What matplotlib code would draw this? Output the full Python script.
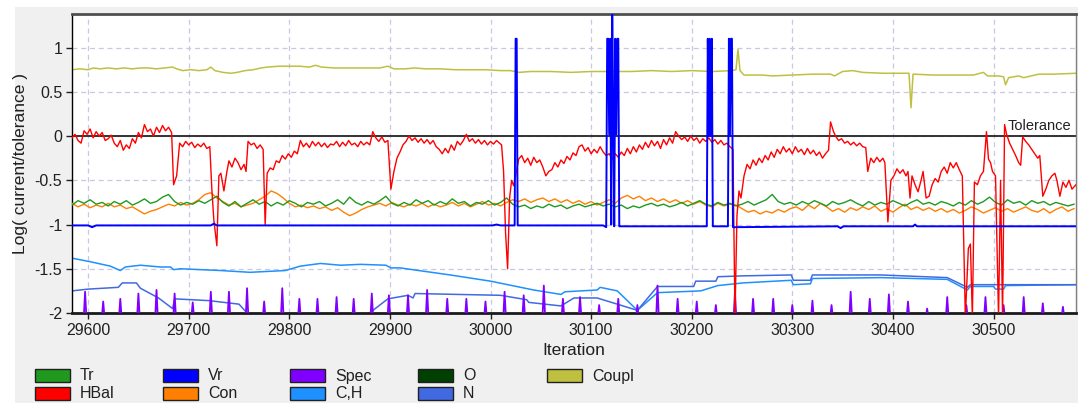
import numpy as np
import matplotlib
matplotlib.use("Agg")
import matplotlib.pyplot as plt
from matplotlib.patches import Rectangle

plt.rcParams['font.family'] = ['Liberation Sans', 'DejaVu Sans']

# ---- data (iteration, log(current/tolerance)) ----
tr_start, tr_step = 29584, 6
tr = [-0.78, -0.73, -0.76, -0.72, -0.77, -0.75, -0.79, -0.74, -0.77, -0.73,
      -0.78, -0.75, -0.71, -0.76, -0.74, -0.69, -0.66, -0.74, -0.78, -0.75,
      -0.77, -0.73, -0.76, -0.72, -0.68, -0.75, -0.79, -0.74, -0.8, -0.76,
      -0.72, -0.77, -0.74, -0.79, -0.75, -0.78, -0.73, -0.76, -0.8, -0.75,
      -0.77, -0.74, -0.79, -0.76, -0.72, -0.77, -0.69, -0.75, -0.78, -0.74,
      -0.77, -0.73, -0.68, -0.76, -0.79, -0.75, -0.78, -0.72, -0.76, -0.73,
      -0.78, -0.74, -0.77, -0.71, -0.76, -0.74, -0.79, -0.75, -0.77, -0.73,
      -0.78, -0.75, -0.7, -0.77, -0.8, -0.78, -0.82, -0.79, -0.81, -0.77,
      -0.8, -0.78, -0.82, -0.79, -0.77, -0.8, -0.78, -0.76, -0.79, -0.77,
      -0.8, -0.78, -0.82, -0.79, -0.81, -0.78, -0.76, -0.79, -0.77, -0.8,
      -0.78, -0.75, -0.79, -0.76, -0.73, -0.77, -0.79, -0.75, -0.78, -0.76,
      -0.79, -0.77, -0.74, -0.78, -0.75, -0.72, -0.66, -0.74, -0.77, -0.75,
      -0.78, -0.74, -0.77, -0.73, -0.76, -0.79, -0.74, -0.77, -0.75, -0.72,
      -0.76, -0.79, -0.74, -0.78, -0.75, -0.77, -0.73, -0.76, -0.79, -0.75,
      -0.72, -0.77, -0.75, -0.78, -0.74, -0.76, -0.79, -0.75, -0.78, -0.73,
      -0.77, -0.74, -0.69, -0.75, -0.78, -0.72, -0.76, -0.74, -0.78, -0.73,
      -0.76, -0.74, -0.78, -0.75, -0.77, -0.79, -0.77]

con = [-0.76, -0.8, -0.77, -0.81, -0.78, -0.8, -0.76, -0.8, -0.78, -0.82,
       -0.8, -0.84, -0.88, -0.85, -0.83, -0.8, -0.77, -0.79, -0.75, -0.78,
       -0.76, -0.72, -0.66, -0.64, -0.7, -0.74, -0.78, -0.76, -0.8, -0.78,
       -0.76, -0.72, -0.68, -0.62, -0.65, -0.7, -0.76, -0.8, -0.78, -0.81,
       -0.79, -0.82, -0.8, -0.84, -0.81, -0.86, -0.9, -0.87, -0.83, -0.8,
       -0.78, -0.76, -0.79, -0.75, -0.78, -0.8, -0.77, -0.79, -0.76, -0.8,
       -0.77, -0.8, -0.78, -0.75, -0.79, -0.76, -0.8, -0.77, -0.74, -0.78,
       -0.76, -0.79, -0.75, -0.72, -0.74, -0.71, -0.75, -0.72, -0.7, -0.74,
       -0.71, -0.75, -0.72, -0.76, -0.73, -0.77, -0.74, -0.78, -0.75, -0.72,
       -0.76, -0.7, -0.67, -0.71, -0.68, -0.73, -0.7, -0.74, -0.71, -0.75,
       -0.72, -0.76, -0.73, -0.77, -0.74, -0.78, -0.8, -0.76, -0.79, -0.77,
       -0.78, -0.82, -0.86, -0.84, -0.88, -0.85, -0.87, -0.83, -0.86, -0.82,
       -0.8, -0.84, -0.78, -0.82, -0.76, -0.8, -0.85, -0.82, -0.86, -0.81,
       -0.84, -0.8, -0.83, -0.79, -0.85, -0.82, -0.86, -0.81, -0.77, -0.83,
       -0.8, -0.84, -0.81, -0.85, -0.82, -0.86, -0.83, -0.87, -0.84, -0.8,
       -0.83, -0.87, -0.84, -0.81, -0.85, -0.82, -0.86, -0.83, -0.8, -0.84,
       -0.86, -0.82, -0.87, -0.83, -0.8, -0.85, -0.82]

hbal_x = [29584, 29587, 29590, 29593, 29596, 29599, 29602, 29605, 29608, 29611,
          29614, 29617, 29620, 29623, 29626, 29629, 29632, 29635, 29638, 29641,
          29644, 29647, 29650, 29653, 29656, 29659, 29662, 29665, 29668, 29671,
          29674, 29677, 29680, 29683, 29685, 29688, 29691, 29694, 29697, 29700,
          29703, 29706, 29709, 29712, 29715, 29718, 29721, 29723, 29725, 29728,
          29730, 29732, 29735, 29738, 29740, 29743, 29746, 29749, 29752, 29755,
          29757, 29759, 29762, 29765, 29768, 29771, 29774, 29776, 29778, 29781,
          29784, 29787, 29790, 29793, 29796, 29799, 29802, 29805, 29808, 29811,
          29814, 29817, 29820, 29823, 29826, 29829, 29832, 29835, 29838, 29841,
          29844, 29847, 29850, 29853, 29856, 29859, 29862, 29865, 29868, 29871,
          29874, 29877, 29880, 29883, 29886, 29889, 29892, 29895, 29898, 29901,
          29904, 29907, 29910, 29913, 29916, 29919, 29922, 29925, 29928, 29931,
          29934, 29937, 29940, 29943, 29946, 29949, 29952, 29955, 29958, 29961,
          29964, 29967, 29970, 29973, 29976, 29979, 29982, 29985, 29988, 29991,
          29994, 29997, 30000, 30003, 30006, 30009, 30011, 30013, 30015, 30017,
          30019, 30021, 30023, 30025, 30028, 30031, 30034, 30037, 30040, 30043,
          30046, 30049, 30052, 30055, 30058, 30061, 30064, 30067, 30070, 30073,
          30076, 30079, 30082, 30085, 30088, 30091, 30094, 30097, 30100, 30103,
          30106, 30109, 30112, 30115, 30118, 30121, 30124, 30127, 30130, 30133,
          30136, 30139, 30142, 30145, 30148, 30151, 30154, 30157, 30160, 30163,
          30166, 30169, 30172, 30175, 30178, 30181, 30184, 30187, 30190, 30193,
          30196, 30199, 30202, 30205, 30208, 30211, 30214, 30217, 30220, 30223,
          30226, 30229, 30232, 30235, 30238, 30241, 30243, 30245, 30247, 30249,
          30252, 30255, 30258, 30261, 30264, 30267, 30270, 30273, 30276, 30279,
          30282, 30285, 30288, 30291, 30294, 30297, 30300, 30303, 30306, 30309,
          30312, 30315, 30318, 30321, 30324, 30327, 30330, 30333, 30336, 30338,
          30341, 30343, 30346, 30349, 30352, 30355, 30358, 30361, 30364, 30367,
          30370, 30373, 30375, 30378, 30381, 30384, 30387, 30390, 30392, 30395,
          30398, 30401, 30404, 30407, 30410, 30413, 30415, 30417, 30419, 30422,
          30425, 30428, 30430, 30433, 30436, 30439, 30442, 30445, 30448, 30451,
          30454, 30457, 30460, 30463, 30466, 30469, 30472, 30475, 30477, 30479,
          30481, 30484, 30487, 30490, 30493, 30495, 30497, 30499, 30502, 30505,
          30507, 30509, 30511, 30513, 30516, 30519, 30522, 30525, 30527, 30529,
          30532, 30535, 30538, 30541, 30544, 30546, 30549, 30552, 30555, 30558,
          30561, 30563, 30566, 30569, 30572, 30575, 30578, 30582]
hbal_y = [-0.02, 0.02, -0.05, -0.08, 0.06, 0.02, 0.08, -0.02, 0.05, 0.0,
          0.04, -0.05, -0.03, 0.01, -0.08, -0.12, -0.05, -0.16, -0.1, -0.14,
          -0.03, -0.08, 0.04, -0.02, 0.13, 0.05, 0.08, 0.0, 0.1, 0.04,
          0.12, 0.06, 0.1, 0.04, -0.55, -0.45, -0.08, -0.12, -0.06, -0.1,
          -0.07, -0.13, -0.09, -0.12, -0.08, -0.14, -0.12, -0.6, -0.95, -1.24,
          -0.45, -0.42, -0.62, -0.4, -0.28, -0.35, -0.25, -0.3, -0.38, -0.32,
          -0.4, -0.06, -0.1, -0.08, -0.14, -0.1, -0.15, -1.0, -0.42, -0.36,
          -0.38, -0.28, -0.3, -0.22, -0.26, -0.2, -0.24, -0.17, -0.2, -0.05,
          -0.12, -0.08, -0.13, -0.06, -0.11, -0.07, -0.12, -0.08, -0.13, -0.09,
          -0.1, -0.06, -0.12, -0.07, -0.11, -0.05, -0.1, -0.08, -0.12, -0.06,
          -0.1, -0.07, -0.1, 0.05, -0.02, -0.06, -0.01, -0.07, -0.05, -0.6,
          -0.4, -0.25, -0.18, -0.1, -0.06, 0.0, -0.05, -0.02, -0.07, -0.03,
          -0.08, -0.04, -0.09, -0.05, -0.12, -0.15, -0.2, -0.14, -0.19, -0.1,
          -0.16, -0.06, -0.1, -0.05, 0.02, -0.06, -0.03, -0.08, -0.04, -0.09,
          -0.05, -0.1, -0.06, -0.09, -0.05, -0.08, -0.1, -0.4, -1.1, -1.5,
          -0.7, -0.5, -0.56, -0.45, -0.26, -0.22, -0.3, -0.25, -0.33, -0.24,
          -0.3, -0.27, -0.35, -0.45, -0.4, -0.38, -0.3, -0.35, -0.27, -0.31,
          -0.23, -0.27, -0.19, -0.22, -0.12, -0.1, -0.17, -0.13, -0.2, -0.15,
          -0.19, -0.12, -0.18, -0.22, -0.2, -0.26, -0.2, -0.24, -0.18, -0.22,
          -0.14, -0.2, -0.12, -0.18, -0.1, -0.15, -0.07, -0.13, -0.05, -0.11,
          -0.06, -0.14, -0.04, -0.1, -0.02, -0.08, 0.05, 0.0, -0.04, -0.01,
          -0.06, 0.0, -0.05, -0.02, -0.08, -0.03, -0.06, -0.02, -0.07, -0.04,
          -0.09, -0.05, -0.1, -0.08, -0.12, -0.15, -2.05, -0.9, -0.62, -0.7,
          -0.45, -0.32, -0.37, -0.27, -0.33, -0.25, -0.3, -0.22, -0.27, -0.18,
          -0.24, -0.15, -0.2, -0.12, -0.18, -0.14, -0.2, -0.12, -0.18, -0.15,
          -0.21, -0.14, -0.2, -0.16, -0.22, -0.18, -0.25, -0.2, -0.16, 0.16,
          0.05, 0.0, -0.05, -0.03, -0.08, -0.06, -0.1, -0.07, -0.11, -0.08,
          -0.12, -0.13, -0.4, -0.25, -0.3, -0.24, -0.29, -0.25, -0.3, -0.97,
          -0.5, -0.45, -0.37, -0.42, -0.38, -0.45, -0.4, -0.7, -0.45, -0.55,
          -0.63, -0.5, -0.4, -0.7, -0.68, -0.55, -0.48, -0.52, -0.4, -0.35,
          -0.42, -0.3, -0.36, -0.3, -0.38, -0.45, -2.05, -1.27, -1.22, -2.05,
          -0.52, -0.55, -0.45, -0.4, 0.05, -0.26, -0.3, -0.4, -0.45, -2.05,
          -0.5, -2.05, 0.13, 0.02, -0.08, -0.15, -0.22, -0.3, -0.33, -0.01,
          -0.06, -0.1, -0.15, -0.2, -0.25, -0.22, -0.68, -0.6, -0.5, -0.45,
          -0.42, -0.5, -0.68, -0.52, -0.58, -0.5, -0.6, -0.55]

vr_x = [29584, 29600, 29604, 29608, 29722, 29725, 29728, 30002, 30006, 30010,
        30024, 30025, 30026, 30027,
        30112, 30115, 30116, 30117, 30118, 30119, 30120, 30121, 30122, 30123,
        30124, 30125, 30126, 30127, 30128, 30129,
        30215, 30216, 30217, 30218, 30219, 30220, 30221,
        30236, 30237, 30238, 30239, 30240, 30241,
        30345, 30348, 30351, 30420, 30422, 30424, 30582]
vr_y = [-1.01, -1.01, -1.03, -1.01, -1.01, -0.99, -1.01, -1.01, -1.0, -1.01,
        -1.01, 1.1, 1.1, -1.01,
        -1.01, -1.03, 1.1, 1.1, 0.02, 1.1, -1.0, 1.38, 0.3, -1.02,
        1.1, 0.02, 1.1, 1.1, -1.02, -1.02,
        -1.02, 1.1, 0.0, 1.1, 0.0, 1.1, -1.02,
        -1.02, 1.1, 0.0, 1.1, 1.1, -1.03,
        -1.02, -1.04, -1.02, -1.02, -1.0, -1.02, -1.02]

ch_x = [29584, 29602, 29622, 29632, 29637, 29652, 29672, 29682, 29685, 29692,
        29732, 29761, 29796, 29811, 29831, 29851, 29871, 29896, 29901, 29910,
        29960, 30000, 30043, 30070, 30074, 30106, 30109, 30126, 30146, 30166,
        30209, 30226, 30251, 30299, 30301, 30318, 30320, 30388, 30454, 30474,
        30477, 30500, 30502, 30510, 30512, 30582]
ch_y = [-1.38, -1.42, -1.47, -1.52, -1.48, -1.46, -1.48, -1.48, -1.51, -1.5,
        -1.52, -1.54, -1.52, -1.47, -1.44, -1.46, -1.45, -1.46, -1.49, -1.49,
        -1.57, -1.64, -1.74, -1.79, -1.76, -1.74, -1.71, -1.75, -1.97, -1.77,
        -1.75, -1.69, -1.66, -1.63, -1.68, -1.67, -1.61, -1.6, -1.62, -1.74,
        -1.7, -1.7, -1.73, -1.73, -1.69, -1.68]

n_x = [29584, 29600, 29630, 29634, 29648, 29652, 29670, 29684, 29686, 29720,
       29750, 29762, 29874, 29898, 29918, 29923, 29925, 30010, 30036, 30038,
       30070, 30083, 30106, 30146, 30166, 30202, 30204, 30224, 30226, 30251,
       30299, 30301, 30318, 30320, 30388, 30454, 30474, 30477, 30582]
n_y = [-1.75, -1.73, -1.71, -1.66, -1.66, -1.72, -1.83, -1.95, -1.84, -1.86,
       -1.9, -2.05, -2.05, -1.84, -1.8, -1.83, -1.78, -1.8, -1.85, -1.88,
       -1.92, -1.83, -1.83, -1.97, -1.7, -1.7, -1.64, -1.64, -1.59, -1.58,
       -1.57, -1.63, -1.63, -1.57, -1.57, -1.6, -1.71, -1.68, -1.68]

spec_x = [29597, 29615, 29632, 29650, 29668, 29686, 29704, 29722, 29740, 29758,
          29775, 29793, 29810, 29828, 29847, 29864, 29882, 29899, 29918, 29937,
          29957, 29976, 29995, 30014, 30033, 30053, 30072, 30089, 30108, 30127,
          30146, 30166, 30186, 30205, 30224, 30243, 30261, 30281, 30300, 30320,
          30339, 30358, 30377, 30396, 30415, 30434, 30454, 30473, 30492, 30510,
          30530, 30549, 30569]
spec_y = [-1.76, -1.87, -1.84, -1.78, -1.74, -1.78, -1.88, -1.76, -1.76, -1.72,
          -1.87, -1.72, -1.84, -1.84, -1.82, -1.84, -1.78, -1.8, -1.8, -1.74,
          -1.84, -1.84, -1.87, -1.76, -1.8, -1.69, -1.84, -1.82, -1.91, -1.84,
          -1.91, -1.69, -1.84, -1.87, -1.91, -1.76, -1.84, -1.84, -1.91, -1.86,
          -1.91, -1.76, -1.84, -1.79, -1.87, -1.95, -1.82, -1.91, -1.82, -1.91,
          -1.82, -1.89, -1.93]

coupl_x = [29584, 29592, 29600, 29605, 29612, 29620, 29628, 29636, 29644, 29652,
           29660, 29668, 29676, 29684, 29688, 29694, 29702, 29710, 29718, 29722,
           29726, 29734, 29742, 29748, 29756, 29764, 29772, 29778, 29790, 29800,
           29810, 29820, 29826, 29832, 29845, 29860, 29875, 29890, 29898, 29904,
           29915, 29925, 29935, 29950, 29965, 29980, 29995, 30010, 30020, 30028,
           30040, 30060, 30080, 30100, 30120, 30140, 30160, 30180, 30200, 30220,
           30240, 30244, 30246, 30248, 30252, 30270, 30280, 30300, 30320, 30338,
           30342, 30350, 30360, 30370, 30390, 30410, 30416, 30418, 30420, 30440,
           30460, 30480, 30490, 30494, 30505, 30510, 30512, 30515, 30525, 30530,
           30545, 30560, 30582]
coupl_y = [0.75, 0.76, 0.75, 0.77, 0.76, 0.77, 0.76, 0.77, 0.76, 0.77,
           0.77, 0.76, 0.77, 0.78, 0.76, 0.74, 0.75, 0.74, 0.75, 0.78,
           0.74, 0.72, 0.71, 0.72, 0.74, 0.75, 0.77, 0.78, 0.79, 0.79,
           0.79, 0.78, 0.8, 0.78, 0.77, 0.77, 0.77, 0.77, 0.79, 0.76,
           0.76, 0.77, 0.76, 0.76, 0.75, 0.75, 0.75, 0.74, 0.74, 0.72,
           0.73, 0.73, 0.72, 0.73, 0.73, 0.73, 0.74, 0.73, 0.74, 0.73,
           0.74, 0.75, 0.98, 0.74, 0.69, 0.69, 0.68, 0.69, 0.7, 0.7,
           0.68, 0.73, 0.74, 0.72, 0.71, 0.71, 0.71, 0.32, 0.7, 0.69,
           0.69, 0.69, 0.72, 0.68, 0.68, 0.67, 0.58, 0.66, 0.68, 0.66,
           0.7, 0.7, 0.71]

names = ['Tr', 'HBal', 'Vr', 'Con', 'Spec', 'C,H', 'O', 'N', 'Coupl']
colors = {'Tr': '#1f9a1f', 'HBal': '#ff0000', 'Vr': '#0000ff', 'Con': '#ff8000',
          'Spec': '#8000ff', 'C,H': '#1e90ff', 'O': '#004000', 'N': '#4169e1',
          'Coupl': '#c0c040'}

W, H = 1086, 403
fig = plt.figure(figsize=(W / 100, H / 100), dpi=100, facecolor='white')
fig.patches.append(Rectangle((15 / W, 0), (1078 - 15) / W, 1 - 7 / H,
                             transform=fig.transFigure, facecolor='#f0f0f0',
                             edgecolor='none', zorder=-10))
ax = fig.add_axes([72 / W, 1 - 313 / H, (1076 - 72) / W, (313 - 14) / H])
ax.set_facecolor('white')

ax.axhline(0, color='#333333', lw=1.4, zorder=1)
ax.text(30577, 0.04, 'Tolerance', ha='right', va='bottom', fontsize=10.5,
        color='#222222')

ax.plot(coupl_x, coupl_y, color=colors['Coupl'], lw=1.1, zorder=2)
ax.plot(ch_x, ch_y, color=colors['C,H'], lw=1.1, zorder=2)
ax.plot(n_x, n_y, color=colors['N'], lw=1.1, zorder=2)

sx = np.array(spec_x, dtype=float)
sy = np.array(spec_y)
base = np.full_like(sy, -2.05)
spx = np.column_stack([sx - 1.3, sx, sx + 1.3, sx * np.nan]).ravel()
spy = np.column_stack([base, sy, base, sy * np.nan]).ravel()
ax.plot(spx, spy, color=colors['Spec'], lw=1.3, zorder=3)

tx = tr_start + tr_step * np.arange(len(tr))
ax.plot(tx, con, color=colors['Con'], lw=1.0, zorder=3)
ax.plot(tx, tr, color=colors['Tr'], lw=1.0, zorder=3)
ax.plot(hbal_x, hbal_y, color=colors['HBal'], lw=1.0, zorder=4)
ax.plot(vr_x, vr_y, color=colors['Vr'], lw=1.4, zorder=5)

ax.set_xlim(29584, 30582)
ax.set_ylim(-2, 1.38)
ax.set_xticks(np.arange(29600, 30600, 100))
yt = [-2, -1.5, -1, -0.5, 0, 0.5, 1]
ax.set_yticks(yt)
ax.set_yticklabels(['-2', '-1.5', '-1', '-0.5', '0', '0.5', '1'])
ax.tick_params(direction='out', length=4, width=1, labelsize=11.5,
               colors='#202020', pad=3)
ax.grid(True, color='#c8c8e4', ls=(0, (4, 3)), lw=0.9, zorder=0)
ax.set_axisbelow(True)

ax.spines['top'].set_linewidth(2)
ax.spines['top'].set_color('#505050')
ax.spines['bottom'].set_linewidth(2)
ax.spines['bottom'].set_color('#1a1a1a')
ax.spines['left'].set_linewidth(1)
ax.spines['left'].set_color('#000000')
ax.spines['right'].set_linewidth(1)
ax.spines['right'].set_color('#808080')

ax.set_xlabel('Iteration', fontsize=12.5, labelpad=4, color='#202020')
ax.set_ylabel('Log( current/tolerance )', fontsize=12.5, labelpad=5, color='#202020')

# legend, two rows per column
col_x = [35, 163, 290, 418, 547]
row_y = [369, 387]
for i, name in enumerate(names):
    c, r = divmod(i, 2)
    x0, y0 = col_x[c], row_y[r]
    fig.patches.append(Rectangle((x0 / W, 1 - (y0 + 13) / H), 35 / W, 13 / H,
                                 transform=fig.transFigure, facecolor=colors[name],
                                 edgecolor='#202020', lw=1))
    fig.text((x0 + 45) / W, 1 - (y0 + 7) / H, name, ha='left', va='center',
             fontsize=11.5, color='#202020')

fig.savefig('out.png', dpi=100, facecolor=fig.get_facecolor())
